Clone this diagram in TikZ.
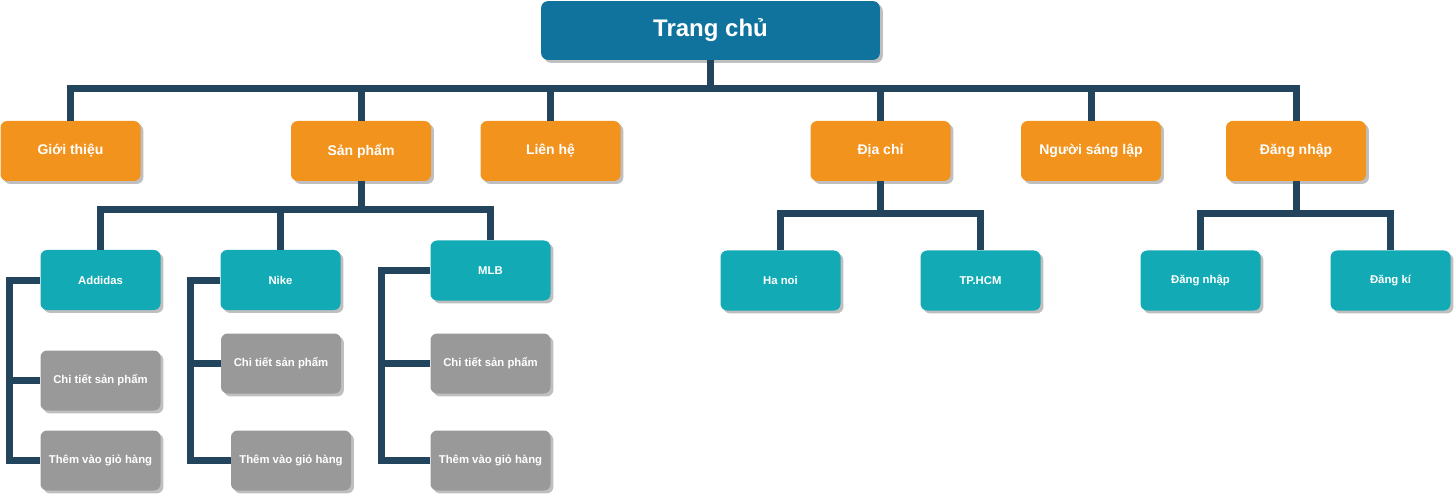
\documentclass[tikz,border=0pt]{standalone}
\usepackage{fontspec}
\setmainfont{Liberation Sans}
\usepackage{xcolor}
\usepackage{tikz}
\usetikzlibrary{shadows}
\definecolor{homeblue}{HTML}{10739E}
\definecolor{menuorange}{HTML}{F2931E}
\definecolor{subteal}{HTML}{12AAB5}
\definecolor{leafgray}{HTML}{999999}
\definecolor{linknavy}{HTML}{23445D}
\tikzset{
    box_node/.style = {align=center, inner sep=0pt, text centered, rectangle, rounded corners=5pt, text=white, font=\bfseries,
        general shadow={fill=black!25, shadow xshift=2.2pt, shadow yshift=-2.2pt}},
    home_node/.style = {box_node, fill=homeblue, minimum width=254pt, minimum height=44pt, font=\bfseries\fontsize{18}{21}\selectfont},
    menu_node/.style = {box_node, fill=menuorange, minimum width=105pt, minimum height=45pt, font=\bfseries\fontsize{10.5}{12}\selectfont},
    sub_node/.style = {box_node, fill=subteal, minimum width=90pt, minimum height=45pt, font=\bfseries\fontsize{8.5}{10}\selectfont},
    leaf_node/.style = {box_node, fill=leafgray, minimum width=90pt, minimum height=45pt, font=\bfseries\fontsize{8.5}{10}\selectfont},
    link/.style = {draw=linknavy, line width=5.25pt, line join=miter}
}
\begin{document}
\begin{tikzpicture}[x=0.75pt, y=-0.75pt]
    \useasboundingbox (0,0) rectangle (1455,495);

    \node [home_node] (home) at (710.5,30.5) {Trang chủ};

    \node [menu_node] (gioithieu) at (70.5,151) {Giới thiệu};
    \node [menu_node] (sanpham) at (361,151) {Sản phẩm};
    \node [menu_node] (lienhe) at (550.5,151) {Liên hệ};
    \node [menu_node] (diachi) at (880.5,151) {Địa chỉ};
    \node [menu_node] (sanglap) at (1091,151) {Người sáng lập};
    \node [menu_node] (dangnhap) at (1296,151) {Đăng nhập};

    \node [sub_node] (addidas) at (100.5,280) {Addidas};
    \node [sub_node] (nike) at (280.5,280) {Nike};
    \node [sub_node] (mlb) at (490.5,270.5) {MLB};
    \node [sub_node] (hanoi) at (780.5,280.5) {Ha noi};
    \node [sub_node] (tphcm) at (980.5,280.5) {TP.HCM};
    \node [sub_node] (dn_sub) at (1200.5,280.5) {Đăng nhập};
    \node [sub_node] (dangki) at (1390.5,280.5) {Đăng kí};

    \node [leaf_node] (addidas_ct) at (100.5,380.5) {Chi tiết sản phẩm};
    \node [leaf_node] (addidas_gio) at (100.5,460.5) {Thêm vào giỏ hàng};
    \node [leaf_node] (nike_ct) at (281,363.5) {Chi tiết sản phẩm};
    \node [leaf_node] (nike_gio) at (291,460.5) {Thêm vào giỏ hàng};
    \node [leaf_node] (mlb_ct) at (490.5,363.5) {Chi tiết sản phẩm};
    \node [leaf_node] (mlb_gio) at (490.5,460.5) {Thêm vào giỏ hàng};

    \foreach \n in {gioithieu,sanpham,lienhe,diachi,sanglap,dangnhap}
        \draw [link] (home.south) -- ++(0,28) -| (\n.north);
    \foreach \n in {addidas,nike,mlb}
        \draw [link] (sanpham.south) -- ++(0,28) -| (\n.north);
    \foreach \n in {hanoi,tphcm}
        \draw [link] (diachi.south) -- ++(0,32) -| (\n.north);
    \foreach \n in {dn_sub,dangki}
        \draw [link] (dangnhap.south) -- ++(0,32) -| (\n.north);

    \draw [link] (addidas.west) -- ++(-31,0) |- (addidas_ct.west);
    \draw [link] (addidas.west) -- ++(-31,0) |- (addidas_gio.west);
    \draw [link] (nike.west) -- ++(-30,0) |- (nike_ct.west);
    \draw [link] (nike.west) -- ++(-30,0) |- (nike_gio.west);
    \draw [link] (mlb.west) -- ++(-49,0) |- (mlb_ct.west);
    \draw [link] (mlb.west) -- ++(-49,0) |- (mlb_gio.west);
\end{tikzpicture}
\end{document}
